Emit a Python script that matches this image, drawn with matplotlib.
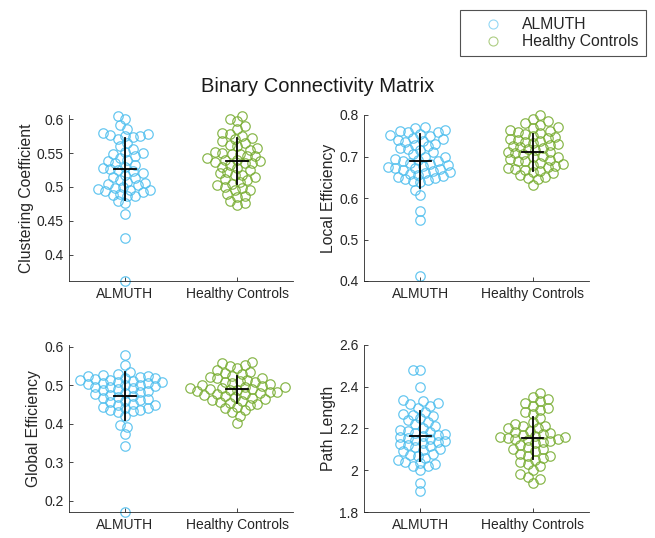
import numpy as np
import matplotlib
matplotlib.use("Agg")
import matplotlib.pyplot as plt
from matplotlib.lines import Line2D

plt.rcParams['font.family'] = ['Liberation Sans', 'DejaVu Sans']

groups = ["ALMUTH", "Healthy Controls"]
metrics = ["Clustering Coefficient", "Local Efficiency", "Global Efficiency", "Path Length"]
title = "Binary Connectivity Matrix"

cc_almuth = [0.605, 0.600, 0.592, 0.585, 0.580, 0.578, 0.577, 0.575, 0.575, 0.573, 0.570, 0.565,
             0.560, 0.556, 0.552, 0.550, 0.548, 0.545, 0.543, 0.540, 0.538, 0.535, 0.533, 0.530,
             0.528, 0.526, 0.525, 0.523, 0.520, 0.518, 0.515, 0.513, 0.510, 0.508, 0.506, 0.505,
             0.503, 0.500, 0.498, 0.497, 0.496, 0.495, 0.494, 0.492, 0.490, 0.488, 0.487, 0.486,
             0.480, 0.476, 0.460, 0.425, 0.362]
cc_hc = [0.605, 0.600, 0.597, 0.590, 0.585, 0.580, 0.578, 0.575, 0.572, 0.570, 0.567, 0.565,
         0.562, 0.560, 0.557, 0.555, 0.552, 0.550, 0.549, 0.548, 0.546, 0.545, 0.543, 0.540,
         0.539, 0.538, 0.537, 0.536, 0.535, 0.532, 0.530, 0.528, 0.525, 0.522, 0.520, 0.518,
         0.517, 0.515, 0.512, 0.510, 0.508, 0.505, 0.503, 0.500, 0.498, 0.496, 0.495, 0.490,
         0.487, 0.485, 0.480, 0.476, 0.473]
le_almuth = [0.770, 0.768, 0.765, 0.762, 0.760, 0.758, 0.755, 0.752, 0.750, 0.745, 0.742, 0.740,
             0.738, 0.735, 0.730, 0.728, 0.725, 0.720, 0.718, 0.715, 0.710, 0.705, 0.700, 0.698,
             0.695, 0.692, 0.690, 0.688, 0.685, 0.683, 0.680, 0.678, 0.675, 0.673, 0.672, 0.670,
             0.668, 0.665, 0.662, 0.660, 0.658, 0.655, 0.652, 0.650, 0.648, 0.645, 0.643, 0.640,
             0.638, 0.620, 0.607, 0.568, 0.547, 0.412]
le_hc = [0.800, 0.790, 0.785, 0.780, 0.775, 0.770, 0.768, 0.765, 0.762, 0.760, 0.757, 0.755,
         0.750, 0.748, 0.745, 0.742, 0.740, 0.738, 0.735, 0.732, 0.730, 0.728, 0.725, 0.722,
         0.720, 0.718, 0.715, 0.712, 0.710, 0.708, 0.705, 0.702, 0.700, 0.698, 0.695, 0.692,
         0.690, 0.688, 0.685, 0.682, 0.680, 0.678, 0.675, 0.672, 0.670, 0.668, 0.665, 0.662,
         0.660, 0.655, 0.650, 0.648, 0.645, 0.632]
ge_almuth = [0.580, 0.552, 0.535, 0.530, 0.528, 0.525, 0.525, 0.522, 0.520, 0.518, 0.517, 0.515,
             0.513, 0.512, 0.510, 0.508, 0.507, 0.505, 0.503, 0.502, 0.500, 0.498, 0.497, 0.495,
             0.493, 0.490, 0.488, 0.485, 0.483, 0.480, 0.478, 0.475, 0.472, 0.470, 0.467, 0.465,
             0.462, 0.460, 0.456, 0.452, 0.450, 0.448, 0.445, 0.442, 0.440, 0.437, 0.435, 0.433,
             0.430, 0.420, 0.397, 0.393, 0.375, 0.343, 0.170]
ge_hc = [0.560, 0.557, 0.552, 0.550, 0.545, 0.540, 0.535, 0.532, 0.530, 0.525, 0.522, 0.520,
         0.518, 0.515, 0.512, 0.510, 0.508, 0.505, 0.503, 0.500, 0.498, 0.497, 0.495, 0.494,
         0.492, 0.490, 0.490, 0.488, 0.487, 0.485, 0.483, 0.482, 0.480, 0.478, 0.477, 0.475,
         0.472, 0.470, 0.468, 0.465, 0.462, 0.460, 0.457, 0.455, 0.452, 0.450, 0.445, 0.440,
         0.435, 0.430, 0.420, 0.402]
pl_almuth = [2.48, 2.48, 2.40, 2.335, 2.33, 2.32, 2.315, 2.31, 2.30, 2.28, 2.27, 2.265, 2.26,
             2.25, 2.24, 2.23, 2.22, 2.21, 2.20, 2.195, 2.19, 2.185, 2.18, 2.175, 2.17, 2.165,
             2.16, 2.155, 2.15, 2.145, 2.14, 2.135, 2.13, 2.125, 2.12, 2.115, 2.11, 2.10, 2.095,
             2.09, 2.08, 2.075, 2.07, 2.06, 2.05, 2.04, 2.035, 2.03, 2.02, 2.02, 2.00, 1.94, 1.90]
pl_hc = [2.37, 2.35, 2.34, 2.33, 2.32, 2.31, 2.30, 2.29, 2.28, 2.27, 2.25, 2.23, 2.22, 2.21,
         2.21, 2.20, 2.20, 2.19, 2.185, 2.18, 2.175, 2.17, 2.165, 2.16, 2.16, 2.155, 2.15, 2.15,
         2.145, 2.14, 2.135, 2.13, 2.12, 2.11, 2.10, 2.10, 2.09, 2.08, 2.07, 2.07, 2.06, 2.05,
         2.04, 2.03, 2.02, 2.00, 1.98, 1.97, 1.96, 1.94]

# mean and SD read from the crosses
means_almuth = [0.527, 0.690, 0.472, 2.163]
sds_almuth = [0.0455, 0.065, 0.063, 0.120]
means_hc = [0.538, 0.710, 0.490, 2.155]
sds_hc = [0.034, 0.044, 0.035, 0.099]

ylims = [(0.3615, 0.606), (0.4, 0.8), (0.171, 0.605), (1.8, 2.6)]
yticks = [[0.4, 0.45, 0.5, 0.55, 0.6], [0.4, 0.5, 0.6, 0.7, 0.8],
          [0.2, 0.3, 0.4, 0.5, 0.6], [1.8, 2.0, 2.2, 2.4, 2.6]]
yticklabels = [["0.4", "0.45", "0.5", "0.55", "0.6"], ["0.4", "0.5", "0.6", "0.7", "0.8"],
               ["0.2", "0.3", "0.4", "0.5", "0.6"], ["1.8", "2", "2.2", "2.4", "2.6"]]

data = [(cc_almuth, cc_hc), (le_almuth, le_hc), (ge_almuth, ge_hc), (pl_almuth, pl_hc)]

c_almuth = (0.30, 0.745, 0.933)
c_hc = (0.466, 0.674, 0.188)
colors = [c_almuth, c_hc]

W, H = 655, 538
fig = plt.figure(figsize=(W / 100, H / 100), dpi=100)

boxes = [(69, 293, 115, 281), (364, 589, 115, 281), (69, 293, 345, 512), (364, 589, 345, 512)]
axes = []
for (l, r, t, b) in boxes:
    axes.append(fig.add_axes([l / W, (H - b) / H, (r - l) / W, (b - t) / H]))


def swarm(ax, yvals, center, min_dist_px=7.2, step_px=2.5):
    """Greedy beeswarm layout in display space; returns x data positions."""
    y = np.asarray(yvals, float)
    order = np.argsort(y)
    disp_y = ax.transData.transform(np.column_stack([np.full_like(y, center), y]))[:, 1]
    cx = ax.transData.transform((center, 0))[0]
    placed = []
    xs = np.zeros_like(y)
    for n, i in enumerate(order):
        yi = disp_y[i]
        k = 0
        while True:
            if k == 0:
                offs = [0.0]
            elif n % 2:
                offs = [k * step_px, -k * step_px]
            else:
                offs = [-k * step_px, k * step_px]
            done = False
            for o in offs:
                ok = all((o - px) ** 2 + (yi - py) ** 2 >= min_dist_px ** 2 for px, py in placed)
                if ok:
                    placed.append((o, yi))
                    xs[i] = ax.transData.inverted().transform((cx + o, yi))[0]
                    done = True
                    break
            if done:
                break
            k += 1
    return xs


gray = (0.15, 0.15, 0.15)
for idx, ax in enumerate(axes):
    ax.set_xlim(0.5, 2.5)
    ax.set_ylim(*ylims[idx])
    ax.set_yticks(yticks[idx])
    ax.set_yticklabels(yticklabels[idx])
    ax.set_xticks([1, 2])
    ax.set_xticklabels(groups)
    for s in ["top", "right"]:
        ax.spines[s].set_visible(False)
    for s in ["left", "bottom"]:
        ax.spines[s].set_color(gray)
        ax.spines[s].set_linewidth(0.6)
    ax.tick_params(direction="in", length=3, width=0.6, colors=gray, labelsize=10, pad=4)
    ax.set_ylabel(metrics[idx], fontsize=11.3, color=gray, labelpad=2)
    ax.patch.set_visible(False)
    for g in range(2):
        yv = data[idx][g]
        xv = swarm(ax, yv, g + 1)
        ax.plot(xv, yv, linestyle="none", marker="o", markersize=6.8, markerfacecolor="none",
                markeredgecolor=colors[g], markeredgewidth=0.9, alpha=0.85, clip_on=False)
    mus = [means_almuth[idx], means_hc[idx]]
    sds = [sds_almuth[idx], sds_hc[idx]]
    for g in range(2):
        ax.plot([g + 1, g + 1], [mus[g] - sds[g], mus[g] + sds[g]], color="black", lw=1.3, zorder=5)
        ax.plot([g + 1 - 0.095, g + 1 + 0.095], [mus[g], mus[g]], color="black", lw=1.3, zorder=5)

fig.text(317.5 / W, 1 - 86 / H, title, ha="center", va="center", fontsize=14.5, color=(0.1, 0.1, 0.1))

handles = [Line2D([], [], linestyle="none", marker="o", markersize=6.5, markerfacecolor="none",
                  markeredgecolor=c, markeredgewidth=0.8, alpha=0.6) for c in colors]
leg = fig.legend(handles, groups, loc="upper right", bbox_to_anchor=(646 / W, 1 - 10 / H),
                 frameon=True, fancybox=False, fontsize=11.3, borderpad=0.45, handletextpad=0.3,
                 labelspacing=0.15, handlelength=3.2, borderaxespad=0)
leg.get_frame().set_edgecolor(gray)
leg.get_frame().set_linewidth(0.8)
for t in leg.get_texts():
    t.set_color(gray)

fig.savefig("out.png", dpi=100)
